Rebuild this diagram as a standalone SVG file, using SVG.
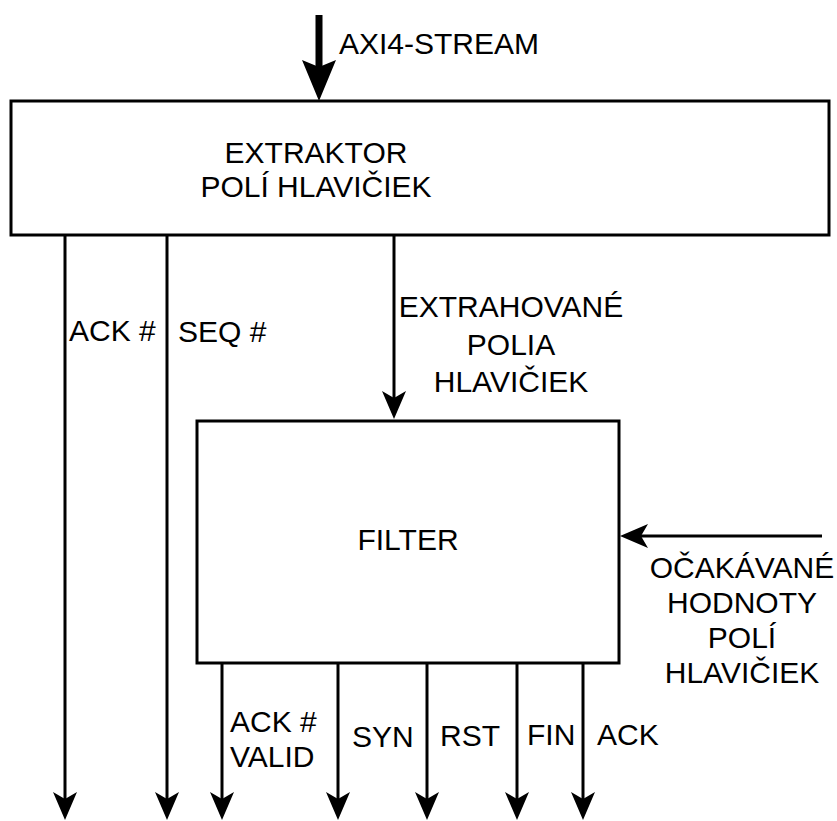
<svg xmlns="http://www.w3.org/2000/svg" width="837" height="821" viewBox="0 0 837 821">
<style>
.box{fill:#fff;stroke:#000;stroke-width:3}
.ln{fill:none;stroke:#000;stroke-width:3;marker-end:url(#ah)}
text{font-family:"Liberation Sans",Arial,sans-serif;font-size:30px;fill:#000}
.c{text-anchor:middle}
</style>
<defs>
<marker id="ah" markerUnits="userSpaceOnUse" viewBox="0 0 28 24" refX="18" refY="12" markerWidth="28" markerHeight="24" orient="auto">
<path d="M0,0 L28,12 L0,24 L7,12 Z" fill="#000"/>
</marker>
</defs>
<rect width="837" height="821" fill="#fff"/>
<g id="extractor">
<rect class="box" x="11" y="101" width="818" height="134"/>
<text class="c" x="316" y="163">EXTRAKTOR</text>
<text class="c" x="316" y="197">POLÍ HLAVIČIEK</text>
</g>
<g id="filter">
<rect class="box" x="197" y="421" width="422" height="242"/>
<text class="c" x="408" y="550">FILTER</text>
</g>
<g id="connectors">
<rect x="315.5" y="15" width="7" height="53" fill="#000"/>
<path d="M319,101 L302,60 L319,67 L336,60 Z" fill="#000"/>
<line class="ln" x1="65" y1="235" x2="65" y2="810"/>
<line class="ln" x1="167" y1="235" x2="167" y2="810"/>
<line class="ln" x1="394" y1="235" x2="394" y2="409"/>
<line class="ln" x1="822" y1="536" x2="630" y2="536"/>
<line class="ln" x1="222" y1="663" x2="222" y2="810"/>
<line class="ln" x1="338" y1="663" x2="338" y2="810"/>
<line class="ln" x1="427" y1="663" x2="427" y2="810"/>
<line class="ln" x1="517" y1="663" x2="517" y2="810"/>
<line class="ln" x1="583" y1="663" x2="583" y2="810"/>
</g>
<g id="labels">
<text x="339" y="54">AXI4-STREAM</text>
<text x="69" y="341">ACK #</text>
<text x="178" y="342">SEQ #</text>
<text class="c" x="511" y="317">EXTRAHOVANÉ</text>
<text class="c" x="511" y="355">POLIA</text>
<text class="c" x="511" y="392">HLAVIČIEK</text>
<text class="c" x="742" y="578">OČAKÁVANÉ</text>
<text class="c" x="742" y="613">HODNOTY</text>
<text class="c" x="742" y="648">POLÍ</text>
<text class="c" x="742" y="683">HLAVIČIEK</text>
<text x="230" y="732">ACK #</text>
<text x="230" y="767">VALID</text>
<text x="352" y="747">SYN</text>
<text x="440" y="746">RST</text>
<text x="527" y="745">FIN</text>
<text x="597" y="745">ACK</text>
</g>
</svg>
